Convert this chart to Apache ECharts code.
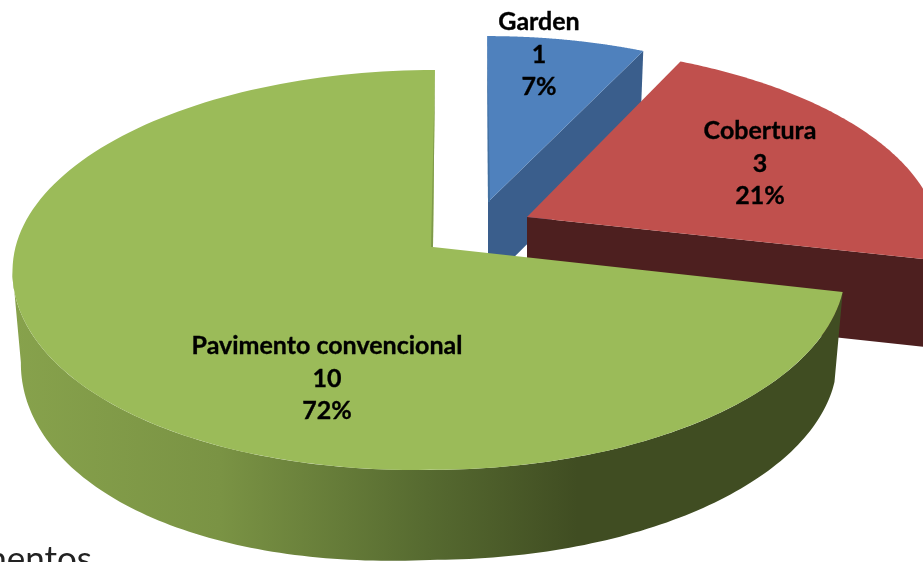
<!DOCTYPE html>
<html>
<head>
<meta charset="utf-8">
<style>html,body{margin:0;padding:0;background:#fff;overflow:hidden}#c{width:923px;height:562px}</style>
<script src="https://cdn.jsdelivr.net/npm/echarts@6/dist/echarts.min.js"></script>
</head>
<body>
<div id="c"></div>
<script>
// Data
var categories = ['Garden', 'Cobertura', 'Pavimento convencional'];
var sliceValues = [1, 3, 10];
var percentLabels = ['7%', '21%', '72%'];
var footerText = 'Pavimentos';

// Drawing geometry of the perspective disc (one entry per slice)
var layout = [
  {apex:[488,202], a:397, aL:397, b:185,   c:-1,  k:0.115, depth:81, top:'#4f81bd', wall:'#3a5e8c', edge:'#43709f', label:[539,22]},
  {apex:[527,217], a:409, aL:409, b:190.5, c:-9,  k:0.115, depth:87, top:'#c0504d', wall:'#4d1f1f', label:[760,131]},
  {apex:[433,247], a:410, aL:417.5, b:197.3, c:2.2, k:0.1147,depth:90, top:'#9bbb59', edge:'#7f9a4a', label:[327,346],
   bulgeTop:4, bulgeLow:11,
   wallStops:[[0,'#87a24c'],[0.25,'#7a9344'],[0.5,'#566a30'],[0.68,'#404d22'],[1,'#404d22']]}
];
var LINE = 32.5, FONT = 'Lato, Carlito, sans-serif', FSIZE = 25, SHRINK = 0.98;

var total = sliceValues.reduce(function(s,v){return s+v;},0);
var angles = [], acc = 0;
sliceValues.forEach(function(v){ angles.push([acc/total*2*Math.PI,(acc+v)/total*2*Math.PI]); acc+=v; });

function proj(L, t, lower){
  var X=Math.sin(t), Y=Math.cos(t), d=1+L.k*Y, u=X/d, v=Y/d, a=X<0?L.aL:L.a;
  var bump=0;
  if(X<0 && Y<0 && L.bulgeTop){ bump=(lower?L.bulgeLow:L.bulgeTop)*Math.sin(2*(t-Math.PI)); }
  return [L.apex[0]+a*u*(lower?SHRINK:1)+L.c*v, L.apex[1]-L.b*v+(lower?L.depth:0)+bump];
}
function arc(L,t0,t1,lower){
  var pts=[], n=160;
  for(var i=0;i<=n;i++) pts.push(proj(L,t0+(t1-t0)*i/n,lower));
  return pts;
}
function renderItem(params, api){
  var i=params.dataIndex, L=layout[i], t0=angles[i][0], t1=angles[i][1], kids=[];
  var ax=L.apex[0], ay=L.apex[1];
  // cut face at the clockwise end (blue, red)
  if(L.wall){
    var e=proj(L,t1,false), e2=proj(L,t1,true);
    kids.push({type:'polygon',shape:{points:[[ax,ay],e,e2,[ax,ay+L.depth]]},style:{fill:L.wall}});
  }
  // outer rim with gradient (green), up to the silhouette tangent at the left extreme
  if(L.wallStops){
    var wallEnd = 2*Math.PI-Math.acos(-L.k);
    var pts=arc(L,t0,wallEnd,false).concat(arc(L,wallEnd,t0,true));
    kids.push({type:'polygon',shape:{points:pts},style:{
      fill:new echarts.graphic.LinearGradient(0,0,1,0,L.wallStops.map(function(s){return {offset:s[0],color:s[1]};}))}});
  }
  // top face
  kids.push({type:'polygon',shape:{points:[[ax,ay]].concat(arc(L,t0,t1,false))},style:{fill:L.top}});
  // thin wall sliver on the upper radial edge
  if(L.edge){
    var r=proj(L,i===2?t1:t0,false);
    var dx=i===2?-2:2;
    kids.push({type:'polygon',shape:{points:[r,[ax,ay],[ax+dx,ay]]},style:{fill:L.edge}});
  }
  // label lines
  [categories[i],String(api.value(0)),percentLabels[i]].forEach(function(s,j){
    kids.push({type:'text',z2:10,style:{text:s,x:L.label[0],y:L.label[1]+j*LINE,align:'center',verticalAlign:'middle',
      fill:'#000',stroke:'#000',lineWidth:0.35,font:'bold '+FSIZE+'px '+FONT}});
  });
  return {type:'group',children:kids};
}
var chart=echarts.init(document.getElementById('c'),null,{renderer:'canvas'});
chart.setOption({
  animation:false,
  backgroundColor:'#fff',
  series:[{type:'custom',coordinateSystem:'none',silent:true,renderItem:renderItem,clip:false,
    data:sliceValues.map(function(v){return [v];})}],
  graphic:[{type:'text',right:831,top:542,z:100,style:{text:footerText,font:'35px '+FONT,fill:'#222'}}]
});
</script>
</body>
</html>
